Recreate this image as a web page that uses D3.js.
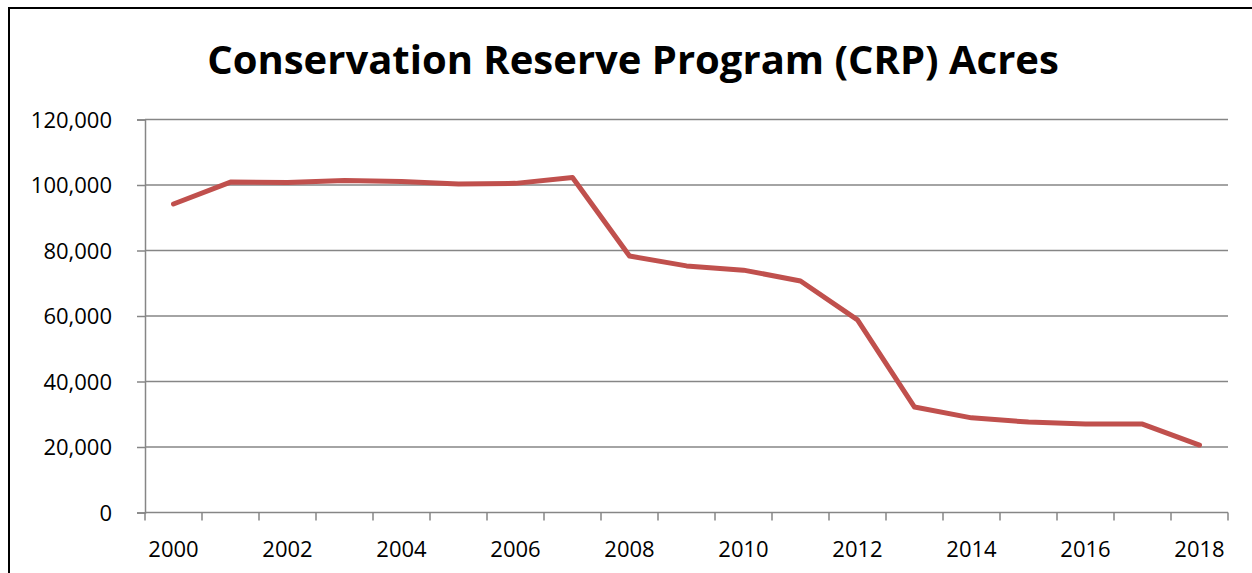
<!DOCTYPE html>
<html>
<head>
<meta charset="utf-8">
<script src="https://cdn.jsdelivr.net/npm/d3@7"></script>
<style>
  html, body { margin: 0; padding: 0; background: #fff; }
  svg { display: block; }
  text { font-family: "Open Sans", "Liberation Sans", sans-serif; fill: #000; }
</style>
</head>
<body>
<svg id="chart" width="1252" height="573"></svg>
<script>
const title = "Conservation Reserve Program (CRP) Acres";
const years = ["2000","2001","2002","2003","2004","2005","2006","2007","2008","2009","2010","2011","2012","2013","2014","2015","2016","2017","2018"];
const acres = [94200,100900,100800,101400,101100,100300,100500,102300,78300,75300,74000,70700,58800,32200,28900,27600,27000,27000,20600];
const yTicks = [0,20000,40000,60000,80000,100000,120000];
const xLabels = ["2000","2002","2004","2006","2008","2010","2012","2014","2016","2018"];

const svg = d3.select("#chart");
const W = 1252, H = 573;
const m = {left: 145, right: 1228, top: 119.5, bottom: 512.5};

// border
svg.append("path")
  .attr("d", `M9,${H} L9,8 L${W},8`)
  .attr("fill", "none").attr("stroke", "#000").attr("stroke-width", 2);

svg.append("text")
  .attr("x", 633).attr("y", 74)
  .attr("text-anchor", "middle")
  .attr("font-weight", "bold")
  .attr("font-size", 40)
  .text(title);

const x = d3.scaleBand().domain(years).range([m.left, m.right]).paddingInner(0).paddingOuter(0);
const y = d3.scaleLinear().domain([0, 120000]).range([m.bottom, m.top]);

// gridlines + y axis
const yAxis = d3.axisLeft(y).tickValues(yTicks).tickSize(8)
  .tickFormat(d3.format(","));
const gy = svg.append("g").attr("transform", `translate(${m.left},0)`).call(yAxis);
gy.select(".domain").attr("stroke", "#868686").attr("stroke-width", 1.5);
gy.selectAll(".tick line").attr("stroke", "#868686").attr("stroke-width", 1.5);
gy.selectAll(".tick text").attr("font-size", 22).attr("x", -33).attr("dy", "0.35em")
  .style("font-family", "'Open Sans', sans-serif");

svg.append("g").selectAll("line").data(yTicks.filter(d => d > 0)).join("line")
  .attr("x1", m.left).attr("x2", m.right)
  .attr("y1", d => y(d)).attr("y2", d => y(d))
  .attr("stroke", "#868686").attr("stroke-width", 1.5);

// x axis
const gx = svg.append("g").attr("transform", `translate(0,${m.bottom})`);
gx.append("line").attr("x1", m.left).attr("x2", m.right).attr("y1", 0).attr("y2", 0)
  .attr("stroke", "#868686").attr("stroke-width", 1.5);
const edges = years.map(d => x(d)).concat([x(years[years.length-1]) + x.bandwidth()]);
gx.selectAll("line.tk").data(edges).join("line").attr("class", "tk")
  .attr("x1", d => d).attr("x2", d => d).attr("y1", 0).attr("y2", 8)
  .attr("stroke", "#868686").attr("stroke-width", 1.5);
gx.selectAll("text").data(xLabels).join("text")
  .attr("x", d => x(d) + x.bandwidth()/2).attr("y", 44)
  .attr("text-anchor", "middle").attr("font-size", 22)
  .text(d => d);

// line
const line = d3.line().x((d, i) => x(years[i]) + x.bandwidth()/2).y(d => y(d));
svg.append("path").datum(acres)
  .attr("d", line)
  .attr("fill", "none").attr("stroke", "#C0504D").attr("stroke-width", 5)
  .attr("stroke-linejoin", "round").attr("stroke-linecap", "round");
</script>
</body>
</html>
